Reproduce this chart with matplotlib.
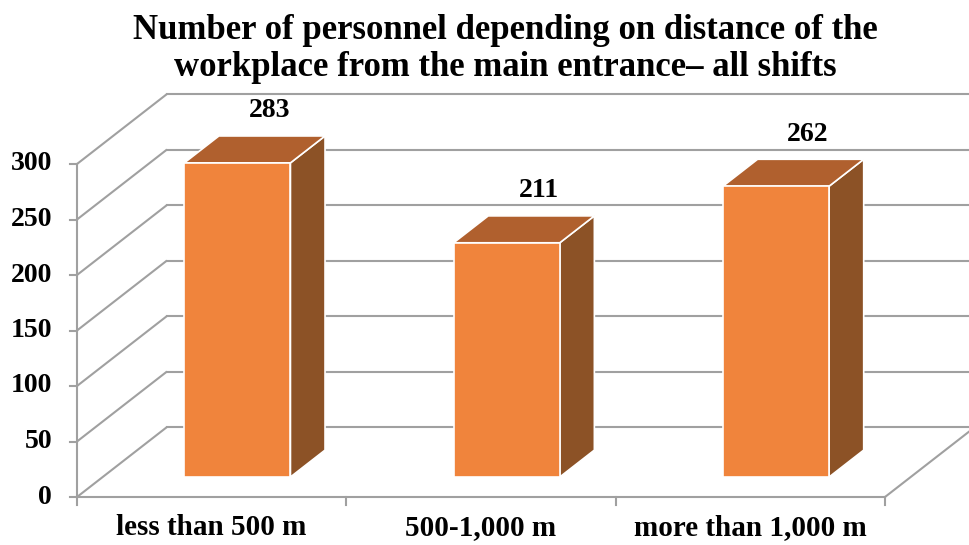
import matplotlib
matplotlib.use("Agg")
import matplotlib.pyplot as plt
from matplotlib.patches import Polygon

categories = ["less than 500 m", "500-1,000 m", "more than 1,000 m"]
values = [283, 211, 262]
y_ticks = [0, 50, 100, 150, 200, 250, 300]
title = "Number of personnel depending on distance of the\nworkplace from the main entrance\u2013 all shifts"

# styling / geometry
FRONT = "#F0843C"
TOP = "#B0602E"
SIDE = "#8C5226"
GRID = "#A0A0A0"
FONT = ["Liberation Serif", "DejaVu Serif"]

W, H, DPI = 970, 545, 100
fig = plt.figure(figsize=(W / DPI, H / DPI), dpi=DPI)
ax = fig.add_axes([0, 0, 1, 1])
ax.set_axis_off()

# pixel mapping: category 0 -> x=77px, 3 -> 885px ; value 0 -> 48px from bottom, 300 -> 381px
px_per_cat = (885 - 77) / 3
px_per_val = 333 / 300
ax.set_xlim(-77 / px_per_cat, (W - 77) / px_per_cat)
ax.set_ylim(-48 / px_per_val, (H - 48) / px_per_val)

ddx = 90 / px_per_cat   # depth offset in category units
ddy = 70 / px_per_val   # depth offset in value units
n = len(categories)
ymax = y_ticks[-1]

# walls: side and back gridlines
for v in y_ticks:
    ax.plot([0, ddx], [v, v + ddy], color=GRID, lw=1.5, zorder=1, solid_capstyle="butt")
    ax.plot([ddx, n + ddx + 0.05], [v + ddy, v + ddy], color=GRID, lw=1.5, zorder=1)
# front axis and floor
ax.plot([0, 0], [0, ymax], color=GRID, lw=1.5, zorder=2)
ax.plot([0, n], [0, 0], color=GRID, lw=1.5, zorder=2)
ax.plot([n, n + ddx], [0, ddy], color=GRID, lw=1.5, zorder=2)
# tick marks
tick_len_x = 7 / px_per_cat
tick_len_y = 8 / px_per_val
for v in y_ticks:
    ax.plot([-tick_len_x, 0], [v, v], color=GRID, lw=1.5, zorder=2)
    ax.text(-25 / px_per_cat, v, str(v), ha="right", va="center",
            fontsize=20, fontweight="bold", family=FONT)
for i in range(n + 1):
    ax.plot([i, i], [0, -tick_len_y], color=GRID, lw=1.5, zorder=2)

# bars
f1, f2 = 0.286, 0.67
bw = 0.394
for i, (cat, v) in enumerate(zip(categories, values)):
    c = i + 0.5
    xl, xr = c - bw / 2, c + bw / 2
    o1x, o1y = f1 * ddx, f1 * ddy
    o2x, o2y = f2 * ddx, f2 * ddy
    front = [(xl + o1x, o1y), (xr + o1x, o1y), (xr + o1x, v + o1y), (xl + o1x, v + o1y)]
    top = [(xl + o1x, v + o1y), (xr + o1x, v + o1y), (xr + o2x, v + o2y), (xl + o2x, v + o2y)]
    side = [(xr + o1x, o1y), (xr + o2x, o2y), (xr + o2x, v + o2y), (xr + o1x, v + o1y)]
    for poly, col in ((side, SIDE), (top, TOP), (front, FRONT)):
        ax.add_patch(Polygon(poly, closed=True, facecolor=col, edgecolor="white",
                             lw=1.2, zorder=5, joinstyle="miter"))
    ax.annotate(str(v), (c + (f1 + f2) / 2 * ddx + 0.055, v + o2y), xytext=(0, 9),
                textcoords="offset points", ha="center", va="bottom",
                fontsize=20, fontweight="bold", family=FONT, zorder=6)
    ax.text(c, -17 / px_per_val, cat, ha="center", va="top",
            fontsize=21, fontweight="bold", family=FONT)

fig.text(505 / W, 1 - 14 / H, title, ha="center", va="top", fontsize=25,
         fontweight="bold", family=FONT, linespacing=1.15)

fig.savefig("out.png", dpi=DPI, facecolor="white")
